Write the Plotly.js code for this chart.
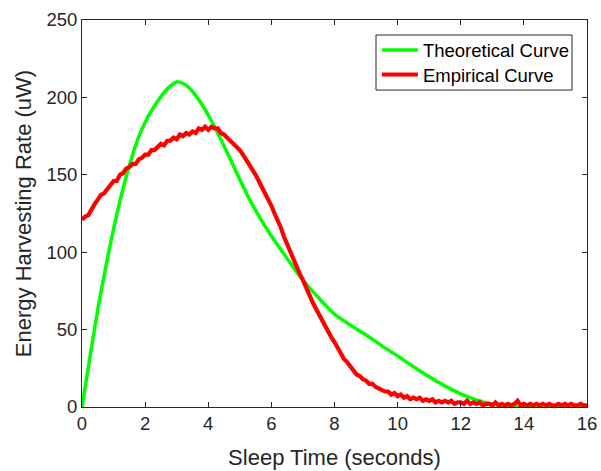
<!DOCTYPE html>
<html>
<head>
<meta charset="utf-8">
<script src="https://cdn.plot.ly/plotly-3.0.1.min.js"></script>
<style>html,body{margin:0;padding:0;background:#fff;}#chart{width:601px;height:471px;}</style>
</head>
<body>
<div id="chart"></div>
<script>
// Theoretical curve
var theoX = [0,0.25,0.5,0.75,1,1.25,1.5,1.75,2,2.25,2.5,2.75,3,3.25,3.5,3.75,4,4.25,4.5,4.75,5,5.25,5.5,5.75,6,6.25,6.5,6.75,7,7.25,7.5,7.75,8,8.5,9,9.5,10,10.5,11,11.5,12,12.5,13,13.5,14,15,16];
var theoY = [0,32,63,90,115,137,156,172,184,193,200.5,206.5,210,208.5,204,197,188.5,179,168.5,158,147,136.5,127,118.5,110.5,103,96,88.5,82,76,70.5,65,60,53,46.5,39.5,33,26,19.5,13.5,8.5,4.5,1.8,0.4,0,0,0];

var empY = [
121,123,124,128,131,134,137,138,141,143,
146,146,150,151,154,155,157,157,160,161,
163,163,166,166,168,170,169,172,172,174,
173,176,175,177,176,178,177,180,179,181,
179,181,180,180,177,176,174,172,170,168,
166,163,160,157,154,150,146,142,139,134,
130,125,121,116,110,105,100,96,91,86,
82,77,73,68,64,60,56,52,49,45,
42,38,35,31,29,26,24,21,20,18,
17,15,15,13,12,11,10,10,8,9,
7,8,6,7,5,6,5,6,4,5,
4,5,3,4,3,4,3,4,2,3,
3,2,4,2,3,2,3,1,2,2,
1,3,1,2,1,2,1,2,4,1,
2,1,2,1,2,1,2,1,2,1,
1,2,1,2,1,2,1,1,2,1,
1];
var empX = empY.map(function(v, i){ return i / 10; });

var xTicks = [0,2,4,6,8,10,12,14,16];
var yTicks = [0,50,100,150,200,250];
var seriesNames = ['Theoretical Curve', 'Empirical Curve'];

var FONT = 'Liberation Sans, Arial, sans-serif';

var traces = [
  {x: theoX, y: theoY, type: 'scatter', mode: 'lines', name: seriesNames[0], legend: 'legend',
   line: {color: '#00ff00', width: 3.5, shape: 'spline', smoothing: 0.8}},
  {x: empX, y: empY, type: 'scatter', mode: 'lines', name: seriesNames[1], legend: 'legend2',
   line: {color: '#ff0000', width: 4.2}}
];

var axisCommon = {
  showline: true, linecolor: '#262626', linewidth: 1, mirror: 'ticks',
  ticks: 'inside', ticklen: 5, tickcolor: '#262626', tickwidth: 1,
  showgrid: false, zeroline: false,
  tickfont: {family: FONT, size: 18.5, color: '#262626'}
};

var legendCommon = {
  xanchor: 'left', yanchor: 'middle', borderwidth: 0, bgcolor: 'rgba(0,0,0,0)',
  itemwidth: 36,
  font: {family: FONT, size: 18.5, color: '#000000'}
};

var layout = {
  width: 601, height: 471,
  margin: {l: 82, r: 14, t: 20, b: 64},
  paper_bgcolor: '#ffffff', plot_bgcolor: '#ffffff',
  showlegend: true,
  legend: Object.assign({}, legendCommon, {x: 0.584, y: 0.921}),
  legend2: Object.assign({}, legendCommon, {x: 0.584, y: 0.858}),
  shapes: [{type: 'rect', xref: 'paper', yref: 'paper',
    x0: 0.5822, x1: 0.9703, y0: 0.819, y1: 0.9612,
    line: {color: '#262626', width: 1}, fillcolor: 'rgba(0,0,0,0)', layer: 'above'}],
  xaxis: Object.assign({}, axisCommon, {
    range: [0, 16], tickvals: xTicks, ticktext: xTicks.map(String),
    title: {text: 'Sleep Time (seconds)', standoff: 16,
      font: {family: FONT, size: 22, color: '#262626'}}
  }),
  yaxis: Object.assign({}, axisCommon, {
    range: [0, 250], tickvals: yTicks, ticktext: yTicks.map(String),
    title: {text: 'Energy Harvesting Rate (uW)', standoff: 8,
      font: {family: FONT, size: 22, color: '#262626'}}
  })
};

Plotly.newPlot('chart', traces, layout, {displayModeBar: false, staticPlot: true});
</script>
</body>
</html>
